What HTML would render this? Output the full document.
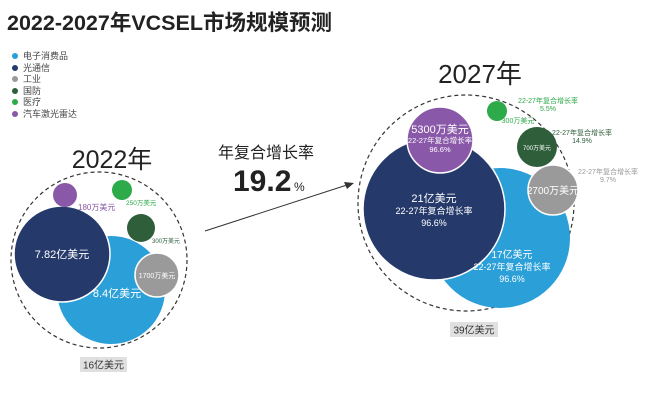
<!DOCTYPE html>
<html><head><meta charset="utf-8"><style>
html,body{margin:0;padding:0;background:#fff;}
svg{display:block;font-family:"Liberation Sans","Noto Sans CJK SC",sans-serif;}
</style></head><body>
<svg width="657" height="418" viewBox="0 0 657 418">
<text x="7" y="30" font-size="21.5" font-weight="bold" fill="#222">2022-2027年VCSEL市场规模预测</text>
<g font-size="9" fill="#444">
<circle cx="15" cy="56" r="3" fill="#2a9fd8"/><text x="23" y="59">电子消费品</text>
<circle cx="15" cy="68" r="3" fill="#253a6b"/><text x="23" y="71">光通信</text>
<circle cx="15" cy="79" r="3" fill="#9a9a9a"/><text x="23" y="82">工业</text>
<circle cx="15" cy="91" r="3" fill="#2e5e3a"/><text x="23" y="94">国防</text>
<circle cx="15" cy="102" r="3" fill="#2daa4a"/><text x="23" y="105">医疗</text>
<circle cx="15" cy="114" r="3" fill="#8a58a8"/><text x="23" y="117">汽车激光雷达</text>
</g>
<text x="112" y="168" font-size="25" text-anchor="middle" fill="#222">2022年</text>
<circle cx="99" cy="260" r="88" fill="none" stroke="#333" stroke-width="1.2" stroke-dasharray="4,3"/>
<circle cx="111" cy="290" r="54" fill="#2a9fd8"/>
<circle cx="62" cy="254" r="48" fill="#253a6b" stroke="#fff" stroke-width="1.5"/>
<circle cx="157" cy="275" r="22" fill="#9a9a9a" stroke="#fff" stroke-width="1.5"/>
<circle cx="141" cy="228" r="14" fill="#2e5e3a"/>
<circle cx="122" cy="190" r="10" fill="#2daa4a"/>
<circle cx="65" cy="195" r="12" fill="#8a58a8"/>
<text x="62" y="258" font-size="11" fill="#fff" text-anchor="middle">7.82亿美元</text>
<text x="117" y="297" font-size="11" fill="#fff" text-anchor="middle">8.4亿美元</text>
<text x="157" y="278" font-size="7" fill="#fff" text-anchor="middle">1700万美元</text>
<text x="78" y="210" font-size="8" fill="#8a58a8">180万美元</text>
<text x="126" y="205" font-size="6.5" fill="#2daa4a">250万美元</text>
<text x="152" y="243" font-size="6" fill="#2e5e3a">300万美元</text>
<rect x="80" y="357" width="47" height="15" fill="#e0e0e0"/>
<text x="103.5" y="368.5" font-size="10" fill="#333" text-anchor="middle">16亿美元</text>
<text x="266" y="158" font-size="16" fill="#222" text-anchor="middle">年复合增长率</text>
<text x="233" y="191" font-size="30" font-weight="bold" fill="#222">19.2</text>
<text x="294" y="191" font-size="12" fill="#222">%</text>
<line x1="205" y1="231" x2="350" y2="184" stroke="#333" stroke-width="1"/>
<polygon points="354,183 344,182 347,189" fill="#333"/>
<text x="480" y="83" font-size="26" text-anchor="middle" fill="#222">2027年</text>
<circle cx="466" cy="203" r="108" fill="none" stroke="#333" stroke-width="1.2" stroke-dasharray="4,3"/>
<circle cx="500" cy="238" r="70" fill="#2a9fd8"/>
<circle cx="434" cy="209" r="71" fill="#253a6b" stroke="#fff" stroke-width="1.5"/>
<circle cx="440" cy="140" r="33" fill="#8a58a8" stroke="#fff" stroke-width="1.5"/>
<circle cx="497" cy="111" r="10" fill="#2daa4a"/>
<circle cx="537" cy="147" r="20" fill="#2e5e3a"/>
<circle cx="553" cy="190" r="25" fill="#9a9a9a" stroke="#fff" stroke-width="1.5"/>
<g fill="#fff" text-anchor="middle">
<text x="440" y="133" font-size="11">5300万美元</text>
<text x="440" y="143" font-size="7.5">22-27年复合增长率</text>
<text x="440" y="152" font-size="7.5">96.6%</text>
<text x="434" y="202" font-size="11">21亿美元</text>
<text x="434" y="214" font-size="9">22-27年复合增长率</text>
<text x="434" y="226" font-size="9">96.6%</text>
<text x="512" y="258" font-size="10">17亿美元</text>
<text x="512" y="270" font-size="9">22-27年复合增长率</text>
<text x="512" y="282" font-size="9">96.6%</text>
<text x="537" y="150" font-size="6">700万美元</text>
<text x="553" y="194" font-size="10">2700万美元</text>
</g>
<g font-size="7" text-anchor="middle">
<text x="548" y="103" fill="#2daa4a">22-27年复合增长率</text>
<text x="548" y="111" fill="#2daa4a">5.5%</text>
<text x="518" y="123" fill="#2daa4a">300万美元</text>
<text x="582" y="135" fill="#2e5e3a">22-27年复合增长率</text>
<text x="582" y="143" fill="#2e5e3a">14.9%</text>
<text x="608" y="174" fill="#999">22-27年复合增长率</text>
<text x="608" y="182" fill="#999">9.7%</text>
</g>
<rect x="450" y="322" width="48" height="15" fill="#e0e0e0"/>
<text x="474" y="333.5" font-size="10" fill="#333" text-anchor="middle">39亿美元</text>
</svg>
</body></html>
